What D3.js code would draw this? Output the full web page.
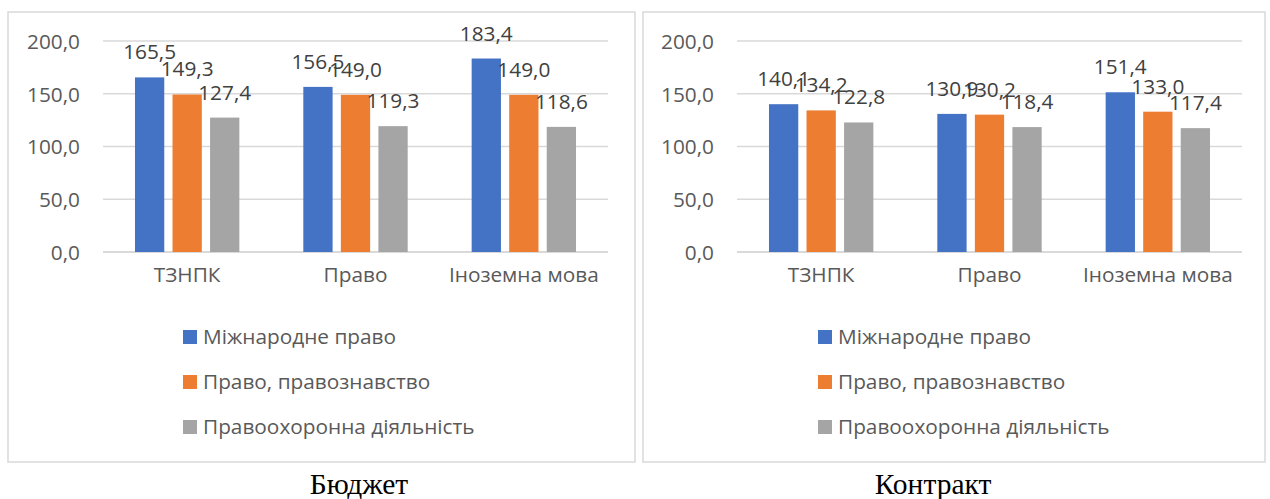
<!DOCTYPE html>
<html>
<head>
<meta charset="utf-8">
<script src="https://cdn.jsdelivr.net/npm/d3@7"></script>
<style>
  body { margin: 0; background: #fff; }
  svg { display: block; }
  .tick text { font-family: "Open Sans", sans-serif; }
</style>
</head>
<body>
<div id="chart"></div>
<script>
// data
var categories = ["ТЗНПК", "Право", "Іноземна мова"];
var series = ["Міжнародне право", "Право, правознавство", "Правоохоронна діяльність"];
var colors = ["#4472C4", "#ED7D31", "#A5A5A5"];
var yTicks = [0, 50, 100, 150, 200];

var budget = [
  [165.5, 156.5, 183.4],
  [149.3, 149.0, 149.0],
  [127.4, 119.3, 118.6]
];
var contract = [
  [140.1, 130.9, 151.4],
  [134.2, 130.2, 133.0],
  [122.8, 118.4, 117.4]
];
var captions = ["Бюджет", "Контракт"];

// layout
var W = 1270, H = 499;
var panels = [
  {x: 8, w: 627, plotX: 103, data: budget, capX: 359},
  {x: 643, w: 622, plotX: 737, data: contract, capX: 933}
];
var panelTop = 12, panelBottom = 462;
var plotW = 505, plotTop = 41, plotBottom = 252;
var font = "'Open Sans', sans-serif";
var fs = "20.8px";
var fmt = function(v) { return d3.format(".1f")(v).replace(".", ","); };

var svg = d3.select("#chart").append("svg")
  .attr("width", W)
  .attr("height", H);

var y = d3.scaleLinear().domain([0, 200]).range([plotBottom, plotTop]);

panels.forEach(function(p, pi) {
  var g = svg.append("g");

  // border
  g.append("rect")
    .attr("x", p.x)
    .attr("y", panelTop)
    .attr("width", p.w)
    .attr("height", panelBottom - panelTop)
    .attr("fill", "#fff")
    .attr("stroke", "#D9D9D9")
    .attr("stroke-width", 1.5);

  var x0 = d3.scaleBand().domain(categories).range([p.plotX, p.plotX + plotW]).padding(0);
  var x1 = d3.scaleBand().domain(d3.range(series.length))
    .range([x0.bandwidth() * 0.19, x0.bandwidth() * 0.81]).paddingInner(0.22);

  // gridlines
  g.selectAll(".grid")
    .data(yTicks)
    .enter()
    .append("line")
      .attr("x1", p.plotX)
      .attr("x2", p.plotX + plotW)
      .attr("y1", function(d) { return y(d); })
      .attr("y2", function(d) { return y(d); })
      .attr("stroke", "#D9D9D9")
      .attr("stroke-width", function(d) { return d === 0 ? 2 : 1.3; });

  // y axis labels
  var yAxis = d3.axisLeft(y).tickValues(yTicks).tickSize(0).tickPadding(23).tickFormat(fmt);
  var ya = g.append("g").attr("transform", "translate(" + p.plotX + ",0)").call(yAxis);
  ya.select(".domain").remove();
  ya.selectAll("text")
    .attr("fill", "#595959")
    .attr("font-size", fs)
    .attr("dy", "0.35em");

  // x axis labels
  var xAxis = d3.axisBottom(x0).tickSize(0).tickPadding(15);
  var xa = g.append("g").attr("transform", "translate(0," + plotBottom + ")").call(xAxis);
  xa.select(".domain").remove();
  xa.selectAll("text")
    .attr("fill", "#595959")
    .attr("font-size", fs);

  // bars
  series.forEach(function(s, si) {
    var sg = g.append("g");
    sg.selectAll("rect")
      .data(p.data[si])
      .enter()
      .append("rect")
        .attr("x", function(d, i) { return x0(categories[i]) + x1(si); })
        .attr("y", function(d) { return y(d); })
        .attr("width", x1.bandwidth())
        .attr("height", function(d) { return y(0) - y(d); })
        .attr("fill", colors[si]);

    sg.selectAll("text")
      .data(p.data[si])
      .enter()
      .append("text")
        .attr("x", function(d, i) { return x0(categories[i]) + x1(si) + x1.bandwidth() / 2; })
        .attr("y", function(d) { return y(d) - 18; })
        .attr("text-anchor", "middle")
        .attr("font-family", font)
        .attr("font-size", fs)
        .attr("fill", "#404040")
        .text(fmt);
  });

  // legend
  var lg = g.selectAll(".legend")
    .data(series)
    .enter()
    .append("g")
      .attr("transform", function(d, i) { return "translate(" + (p.x + 175) + "," + (337 + i * 45) + ")"; });
  lg.append("rect")
    .attr("x", 0)
    .attr("y", -7)
    .attr("width", 14)
    .attr("height", 14)
    .attr("fill", function(d, i) { return colors[i]; });
  lg.append("text")
    .attr("x", 20)
    .attr("dy", "0.35em")
    .attr("font-family", font)
    .attr("font-size", fs)
    .attr("fill", "#595959")
    .text(function(d) { return d; });

  // caption
  svg.append("text")
    .attr("x", p.capX)
    .attr("y", 494)
    .attr("text-anchor", "middle")
    .attr("font-family", "'Liberation Serif', 'Times New Roman', serif")
    .attr("font-size", "29.5px")
    .attr("fill", "#000")
    .text(captions[pi]);
});
</script>
</body>
</html>
